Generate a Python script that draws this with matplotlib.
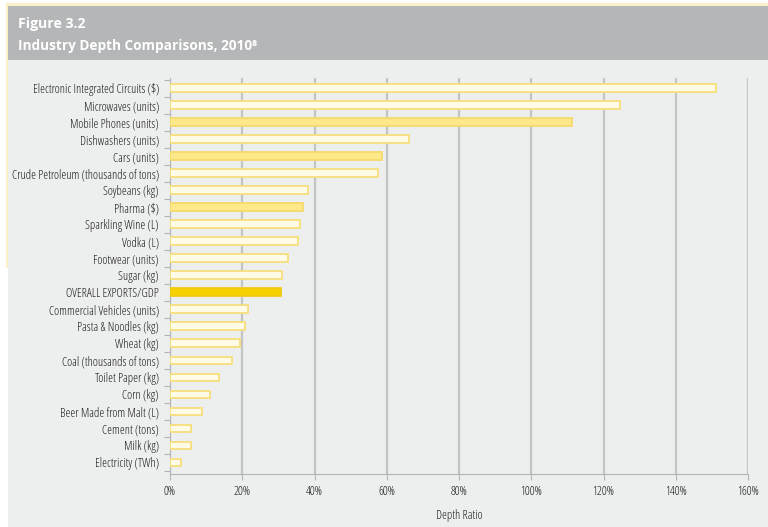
import matplotlib
matplotlib.use("Agg")
import matplotlib.pyplot as plt
from matplotlib.patches import Rectangle
from matplotlib.ticker import FixedLocator, PercentFormatter

# industry depth ratios (%), top to bottom
categories = [
    "Electronic Integrated Circuits ($)", "Microwaves (units)", "Mobile Phones (units)",
    "Dishwashers (units)", "Cars (units)", "Crude Petroleum (thousands of tons)",
    "Soybeans (kg)", "Pharma ($)", "Sparkling Wine (L)", "Vodka (L)",
    "Footwear (units)", "Sugar (kg)", "OVERALL EXPORTS/GDP", "Commercial Vehicles (units)",
    "Pasta & Noodles (kg)", "Wheat (kg)", "Coal (thousands of tons)", "Toilet Paper (kg)",
    "Corn (kg)", "Beer Made from Malt (L)", "Cement (tons)", "Milk (kg)", "Electricity (TWh)",
]
depth = [151.1, 124.7, 111.4, 66.1, 58.8, 57.5, 38.3, 36.7, 36.1, 35.3,
         32.8, 31.1, 30.6, 21.7, 20.7, 19.3, 17.1, 13.5, 11.1, 8.9, 5.8, 5.9, 3.1]
highlighted = ["Mobile Phones (units)", "Cars (units)", "Pharma ($)"]
overall = "OVERALL EXPORTS/GDP"
xticks = [0, 20, 40, 60, 80, 100, 120, 140, 160]

font = dict(family=["Open Sans", "DejaVu Sans"], stretch="condensed")

fig = plt.figure(figsize=(7.68, 5.27), dpi=100)
fig.patch.set_facecolor("white")

W, H = 768, 527
def box(x0, y0, x1, y1, color):
    fig.patches.append(Rectangle((x0 / W, 1 - y1 / H), (x1 - x0) / W, (y1 - y0) / H,
                                 transform=fig.transFigure, facecolor=color,
                                 edgecolor="none", zorder=-5))

# page frame, header band and panel
box(6, 3, 768, 6, "#fbf1c8")
box(6, 3, 9, 268, "#fbf1c8")
box(8, 6, 768, 60, "#b5b6b7")
box(8, 60, 768, 527, "#edeeee")

head = dict(family=["Open Sans", "DejaVu Sans"], weight="bold")
fig.text(18 / W, 1 - 24 / H, "Figure 3.2", color="white", fontsize=10.2,
         va="center", ha="left", **head)
fig.text(18 / W, 1 - 46 / H, "Industry Depth Comparisons, 2010\u2078", color="white",
         fontsize=9.8, va="center", ha="left", **head)

ax = fig.add_axes([170 / W, 1 - 474 / H, (748 - 170) / W, (474 - 77.8) / H])
ax.set_facecolor("none")

ypos = list(range(len(categories)))
for y, cat, val in zip(ypos, categories, depth):
    if cat == overall:
        fc, ec = "#f8d100", "#f0cc10"
    elif cat in highlighted:
        fc, ec = "#fde88a", "#f6da6c"
    else:
        fc, ec = "#fffbe6", "#f7df7c"
    ax.barh(y, val, height=0.42, color=fc, edgecolor=ec, linewidth=1.3, zorder=3)

ax.set_xlim(0, 160)
ax.set_ylim(len(categories) - 0.3, -0.6)
ax.set_yticks(ypos)
ax.set_yticklabels(categories, fontsize=8.8, color="#1a1a1a", **font)
ax.yaxis.set_minor_locator(FixedLocator([i + 0.5 for i in range(-1, len(categories))]))
ax.tick_params(axis="y", which="major", length=0, pad=8)
ax.tick_params(axis="y", which="minor", length=4, color="#b5b5b5", width=0.8)

ax.set_xticks(xticks)
ax.xaxis.set_major_formatter(PercentFormatter(decimals=0))
ax.tick_params(axis="x", length=4, color="#b5b5b5", width=0.8, pad=4,
               labelsize=8.8, labelcolor="#1a1a1a")
for lab in ax.get_xticklabels():
    lab.set_family(font["family"])
    lab.set_stretch(font["stretch"])
ax.set_xlabel("Depth Ratio", fontsize=8.8, color="#1a1a1a", labelpad=7.5, **font)

ax.grid(axis="x", color="#c3c4c4", linewidth=1.6, zorder=0)
ax.set_axisbelow(True)
for side in ["top", "right"]:
    ax.spines[side].set_visible(False)
ax.spines["left"].set_color("#b5b5b5")
ax.spines["bottom"].set_color("#b5b5b5")
ax.spines["left"].set_linewidth(0.8)
ax.spines["bottom"].set_linewidth(0.8)

fig.savefig("out.png", dpi=100)
